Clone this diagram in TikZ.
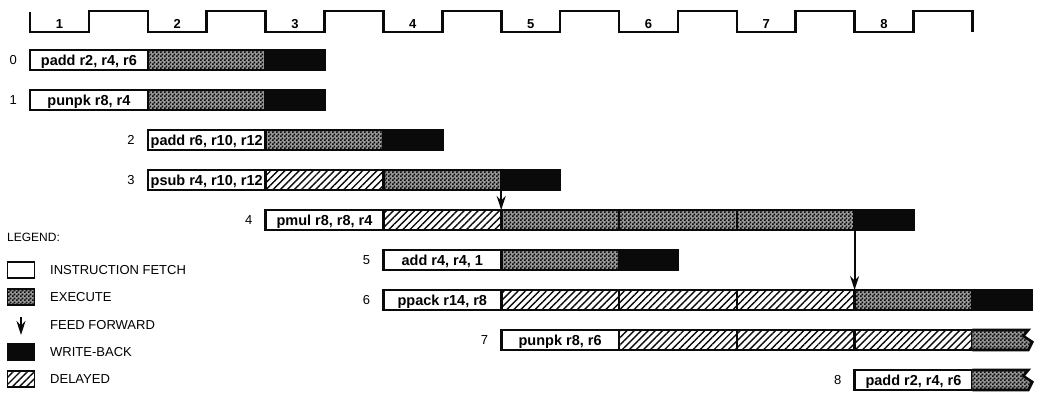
\documentclass[tikz,border=0pt]{standalone}
\usepackage{fontspec}
\setmainfont{Liberation Sans}
\usepackage{tikz}
\usetikzlibrary{arrows.meta,positioning,patterns,patterns.meta}
\definecolor{ink}{HTML}{0A0A0A}
\newcommand{\hc}{58.9}
\pgfdeclarepatternformonly{checks}{\pgfpointorigin}{\pgfpoint{4pt}{4pt}}{\pgfpoint{4pt}{4pt}}{%
  \pgfpathrectangle{\pgfpointorigin}{\pgfpoint{2pt}{2pt}}%
  \pgfpathrectangle{\pgfpoint{2pt}{2pt}}{\pgfpoint{2pt}{2pt}}%
  \pgfusepath{fill}}

\begin{document}
\begin{tikzpicture}[x=1pt,y=-1pt,node distance=0pt,every node/.style={font=\fontsize{13}{15}\selectfont}]
\tikzstyle{seg}=[draw=ink,line width=2.6pt,outer sep=0pt,inner sep=0pt,minimum height=20pt]
\tikzstyle{fetch}=[seg,fill=white,minimum width={2*\hc},anchor=west,text height=12.5pt,text depth=2.5pt,font=\fontsize{14.5}{16}\selectfont\bfseries]
\tikzstyle{exec}=[seg,preaction={fill=ink!42},pattern=checks,pattern color=ink,minimum width={2*\hc}]
\tikzstyle{delay}=[seg,pattern={Lines[angle=45,distance=5pt,line width=1.4pt]},pattern color=ink,minimum width={2*\hc}]
\tikzstyle{wb}=[seg,fill=ink,minimum width={\hc}]
\tikzstyle{brk}=[draw=ink,line width=2.6pt,line join=miter,preaction={fill=ink!42},pattern=checks,pattern color=ink]
\tikzstyle{num}=[inner sep=0pt]
\tikzstyle{clk}=[inner sep=0pt,font=\fontsize{13}{15}\selectfont\bfseries]
\tikzstyle{ff}=[draw=ink,line width=1.8pt,-{Stealth[length=14pt,width=9pt]}]
\tikzstyle{legbox}=[draw=ink,line width=1.8pt,inner sep=0pt,minimum width=27pt,minimum height=16pt]
\tikzstyle{legtxt}=[anchor=west,inner sep=0pt]
\useasboundingbox (0,0) rectangle (1039,392);

% clock
\draw[draw=ink,line width=2.6pt,line join=miter] (30,12) -- (30,32)
  \foreach \k in {1,...,8} {-- ++(\hc,0) -- ++(0,-21) -- ++(\hc,0) -- ++(0,21)};
\foreach \k in {1,...,8} \node[clk] (c\k) at ({30+(2*\k-1.5)*\hc},24) {\k};

% instructions
\node[fetch] (f0) at (30,60) {padd r2, r4, r6};
\node[exec,right=of f0] (e0) {};
\node[wb,right=of e0] (w0) {};
\node[num,left=13pt of f0] (n0) {0};

\node[fetch] (f1) at (30,100) {punpk r8, r4};
\node[exec,right=of f1] (e1) {};
\node[wb,right=of e1] (w1) {};
\node[num,left=13pt of f1] (n1) {1};

\node[fetch] (f2) at ({30+2*\hc},140) {padd r6, r10, r12};
\node[exec,right=of f2] (e2) {};
\node[wb,right=of e2] (w2) {};
\node[num,left=13pt of f2] (n2) {2};

\node[fetch] (f3) at ({30+2*\hc},180) {psub r4, r10, r12};
\node[delay,right=of f3] (d3) {};
\node[exec,right=of d3] (e3) {};
\node[wb,right=of e3] (w3) {};
\node[num,left=13pt of f3] (n3) {3};

\node[fetch] (f4) at ({30+4*\hc},220) {pmul r8, r8, r4};
\node[delay,right=of f4] (d4) {};
\node[exec,right=of d4] (e4a) {};
\node[exec,right=of e4a] (e4b) {};
\node[exec,right=of e4b] (e4c) {};
\node[wb,right=of e4c] (w4) {};
\node[num,left=13pt of f4] (n4) {4};

\node[fetch] (f5) at ({30+6*\hc},260) {add r4, r4, 1};
\node[exec,right=of f5] (e5) {};
\node[wb,right=of e5] (w5) {};
\node[num,left=13pt of f5] (n5) {5};

\node[fetch] (f6) at ({30+6*\hc},300) {ppack r14, r8};
\node[delay,right=of f6] (d6a) {};
\node[delay,right=of d6a] (d6b) {};
\node[delay,right=of d6b] (d6c) {};
\node[exec,right=of d6c] (e6) {};
\node[wb,right=of e6] (w6) {};
\node[num,left=13pt of f6] (n6) {6};

\node[fetch] (f7) at ({30+8*\hc},340) {punpk r8, r6};
\node[delay,right=of f7] (d7a) {};
\node[delay,right=of d7a] (d7b) {};
\node[delay,right=of d7b] (d7c) {};
\draw[brk] (d7c.north east) -- ++({\hc-3},0) -- ++(-5,6) -- ++(9,6) -- ++(-4,8) -- (d7c.south east);
\node[num,left=13pt of f7] (n7) {7};

\node[fetch] (f8) at ({30+14*\hc},380) {padd r2, r4, r6};
\draw[brk] (f8.north east) -- ++({\hc-3},0) -- ++(-5,6) -- ++(9,6) -- ++(-4,8) -- (f8.south east);
\node[num,left=13pt of f8] (n8) {8};

% feed forward
\draw[ff] (e3.south east) -- (e4a.north west);
\draw[ff] (e4c.south east) -- (e6.north west);

% legend
\node[anchor=west,inner sep=0pt,font=\fontsize{12}{14}\selectfont] (legend) at (7,237) {LEGEND:};
\node[legbox,fill=white] (lgf) at (21,270) {};
\node[legtxt] (tf) at (50,270) {INSTRUCTION FETCH};
\node[legbox,preaction={fill=ink!42},pattern=checks,pattern color=ink] (lge) at (21,297) {};
\node[legtxt] (te) at (50,297) {EXECUTE};
\coordinate (ffa) at (21,317);
\coordinate (ffb) at (21,335);
\draw[ff] (ffa) -- (ffb);
\node[legtxt] (tff) at (50,325) {FEED FORWARD};
\node[legbox,fill=ink] (lgw) at (21,352) {};
\node[legtxt] (tw) at (50,352) {WRITE-BACK};
\node[legbox,pattern={Lines[angle=45,distance=5pt,line width=1.4pt]},pattern color=ink] (lgd) at (21,379) {};
\node[legtxt] (td) at (50,379) {DELAYED};
\end{tikzpicture}
\end{document}
